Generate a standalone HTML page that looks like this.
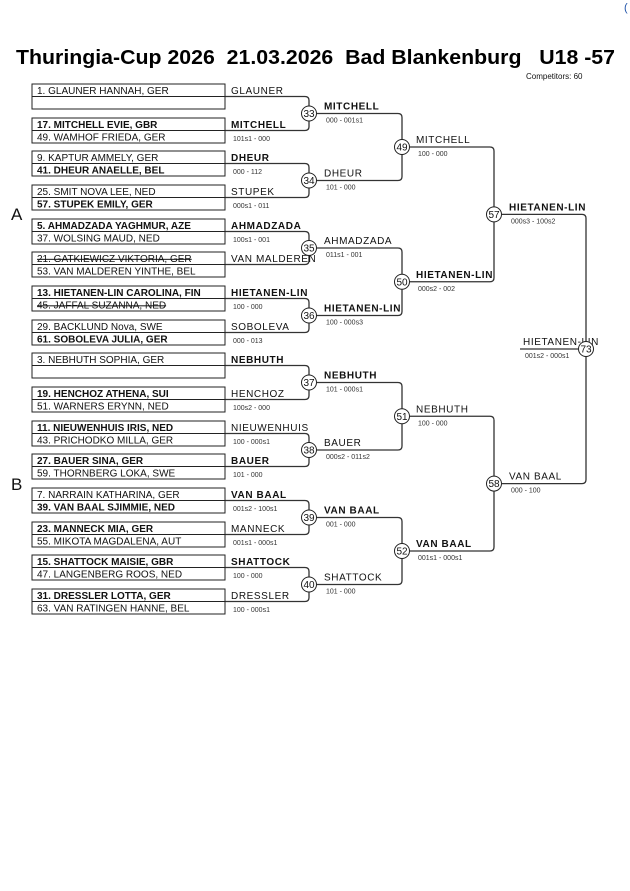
<!DOCTYPE html>
<html><head><meta charset="utf-8"><style>
html,body{margin:0;padding:0;background:#fff;}
svg{display:block;font-family:"Liberation Sans",Arial,sans-serif;}
.e{font-size:10px;fill:#111;}
.b{font-weight:bold;}
.s{text-decoration:line-through;}
.w{font-size:10px;fill:#111;letter-spacing:0.6px;}
.sc{font-size:7px;fill:#333;}
.c{font-size:10px;fill:#111;text-anchor:middle;}
.ln{fill:none;stroke:#333;stroke-width:1.3;}
.ci{fill:#fff;stroke:#222;stroke-width:1;}
.bx{fill:#fff;stroke:#222;stroke-width:1;}
.t{white-space:pre;}
</style></head><body>
<svg width="630" height="891" viewBox="0 0 630 891" xmlns="http://www.w3.org/2000/svg">
<text x="624" y="11" style="font-size:11px;fill:#2255aa">(</text>
<text x="16" y="64" class="t" textLength="599" lengthAdjust="spacingAndGlyphs" style="font-size:20px;font-weight:bold;fill:#000" xml:space="preserve">Thuringia-Cup 2026  21.03.2026  Bad Blankenburg   U18 -57</text>
<text x="526" y="79" style="font-size:8px;fill:#111">Competitors: 60</text>
<text x="11" y="220" style="font-size:17px;fill:#111">A</text>
<text x="11" y="490" style="font-size:17px;fill:#111">B</text>

<g class="ln">
<path d="M225 96.5H305Q309 96.5 309 100.5V126.5Q309 130.5 305 130.5H225"/>
<path d="M225 163.5H305Q309 163.5 309 167.5V193.5Q309 197.5 305 197.5H225"/>
<path d="M225 231.5H305Q309 231.5 309 235.5V260.5Q309 264.5 305 264.5H225"/>
<path d="M225 298.5H305Q309 298.5 309 302.5V328.5Q309 332.5 305 332.5H225"/>
<path d="M225 365.5H305Q309 365.5 309 369.5V395.5Q309 399.5 305 399.5H225"/>
<path d="M225 433.5H305Q309 433.5 309 437.5V462.5Q309 466.5 305 466.5H225"/>
<path d="M225 500.5H305Q309 500.5 309 504.5V530.5Q309 534.5 305 534.5H225"/>
<path d="M225 567.5H305Q309 567.5 309 571.5V597.5Q309 601.5 305 601.5H225"/>
<path d="M317 113.5H398Q402 113.5 402 117.5V176.5Q402 180.5 398 180.5H317"/>
<path d="M317 248H398Q402 248 402 252V311.5Q402 315.5 398 315.5H317"/>
<path d="M317 382.5H398Q402 382.5 402 386.5V446Q402 450 398 450H317"/>
<path d="M317 517.5H398Q402 517.5 402 521.5V580.5Q402 584.5 398 584.5H317"/>
<path d="M410 147H490Q494 147 494 151V277.75Q494 281.75 490 281.75H410"/>
<path d="M410 416.25H490Q494 416.25 494 420.25V547Q494 551 490 551H410"/>
<path d="M502 214.4H582Q586 214.4 586 218.4V479.6Q586 483.6 582 483.6H502"/>
<path d="M520 349H578"/>
</g>

<g class="bx">
<rect x="32" y="84" width="193" height="25"/><line x1="32" y1="96.5" x2="225" y2="96.5"/>
<rect x="32" y="118" width="193" height="25"/><line x1="32" y1="130.5" x2="225" y2="130.5"/>
<rect x="32" y="151" width="193" height="25"/><line x1="32" y1="163.5" x2="225" y2="163.5"/>
<rect x="32" y="185" width="193" height="25"/><line x1="32" y1="197.5" x2="225" y2="197.5"/>
<rect x="32" y="219" width="193" height="25"/><line x1="32" y1="231.5" x2="225" y2="231.5"/>
<rect x="32" y="252" width="193" height="25"/><line x1="32" y1="264.5" x2="225" y2="264.5"/>
<rect x="32" y="286" width="193" height="25"/><line x1="32" y1="298.5" x2="225" y2="298.5"/>
<rect x="32" y="320" width="193" height="25"/><line x1="32" y1="332.5" x2="225" y2="332.5"/>
<rect x="32" y="353" width="193" height="25"/><line x1="32" y1="365.5" x2="225" y2="365.5"/>
<rect x="32" y="387" width="193" height="25"/><line x1="32" y1="399.5" x2="225" y2="399.5"/>
<rect x="32" y="421" width="193" height="25"/><line x1="32" y1="433.5" x2="225" y2="433.5"/>
<rect x="32" y="454" width="193" height="25"/><line x1="32" y1="466.5" x2="225" y2="466.5"/>
<rect x="32" y="488" width="193" height="25"/><line x1="32" y1="500.5" x2="225" y2="500.5"/>
<rect x="32" y="522" width="193" height="25"/><line x1="32" y1="534.5" x2="225" y2="534.5"/>
<rect x="32" y="555" width="193" height="25"/><line x1="32" y1="567.5" x2="225" y2="567.5"/>
<rect x="32" y="589" width="193" height="25"/><line x1="32" y1="601.5" x2="225" y2="601.5"/>
</g>

<g class="e">
<text x="37" y="94">1. GLAUNER HANNAH, GER</text>
<text x="37" y="128" class="b">17. MITCHELL EVIE, GBR</text><text x="37" y="140.5">49. WAMHOF FRIEDA, GER</text>
<text x="37" y="161">9. KAPTUR AMMELY, GER</text><text x="37" y="173.5" class="b">41. DHEUR ANAELLE, BEL</text>
<text x="37" y="195">25. SMIT NOVA LEE, NED</text><text x="37" y="207.5" class="b">57. STUPEK EMILY, GER</text>
<text x="37" y="229" class="b">5. AHMADZADA YAGHMUR, AZE</text><text x="37" y="241.5">37. WOLSING MAUD, NED</text>
<text x="37" y="262" class="s">21. GATKIEWICZ VIKTORIA, GER</text><text x="37" y="274.5">53. VAN MALDEREN YINTHE, BEL</text>
<text x="37" y="296" class="b">13. HIETANEN-LIN CAROLINA, FIN</text><text x="37" y="308.5" class="s">45. JAFFAL SUZANNA, NED</text>
<text x="37" y="330">29. BACKLUND Nova, SWE</text><text x="37" y="342.5" class="b">61. SOBOLEVA JULIA, GER</text>
<text x="37" y="363">3. NEBHUTH SOPHIA, GER</text>
<text x="37" y="397" class="b">19. HENCHOZ ATHENA, SUI</text><text x="37" y="409.5">51. WARNERS ERYNN, NED</text>
<text x="37" y="431" class="b">11. NIEUWENHUIS IRIS, NED</text><text x="37" y="443.5">43. PRICHODKO MILLA, GER</text>
<text x="37" y="464" class="b">27. BAUER SINA, GER</text><text x="37" y="476.5">59. THORNBERG LOKA, SWE</text>
<text x="37" y="498">7. NARRAIN KATHARINA, GER</text><text x="37" y="510.5" class="b">39. VAN BAAL SJIMMIE, NED</text>
<text x="37" y="532" class="b">23. MANNECK MIA, GER</text><text x="37" y="544.5">55. MIKOTA MAGDALENA, AUT</text>
<text x="37" y="565" class="b">15. SHATTOCK MAISIE, GBR</text><text x="37" y="577.5">47. LANGENBERG ROOS, NED</text>
<text x="37" y="599" class="b">31. DRESSLER LOTTA, GER</text><text x="37" y="611.5">63. VAN RATINGEN HANNE, BEL</text>
</g>

<g class="w">
<text x="231" y="94">GLAUNER</text>
<text x="231" y="128" class="b">MITCHELL</text>
<text x="231" y="161" class="b">DHEUR</text>
<text x="231" y="195">STUPEK</text>
<text x="231" y="229" class="b">AHMADZADA</text>
<text x="231" y="262">VAN MALDEREN</text>
<text x="231" y="296" class="b">HIETANEN-LIN</text>
<text x="231" y="330">SOBOLEVA</text>
<text x="231" y="363" class="b">NEBHUTH</text>
<text x="231" y="397">HENCHOZ</text>
<text x="231" y="431">NIEUWENHUIS</text>
<text x="231" y="464" class="b">BAUER</text>
<text x="231" y="498" class="b">VAN BAAL</text>
<text x="231" y="532">MANNECK</text>
<text x="231" y="565" class="b">SHATTOCK</text>
<text x="231" y="599">DRESSLER</text>
</g>
<g class="sc">
<text x="233" y="141">101s1 - 000</text>
<text x="233" y="174">000 - 112</text>
<text x="233" y="208">000s1 - 011</text>
<text x="233" y="242">100s1 - 001</text>
<text x="233" y="309">100 - 000</text>
<text x="233" y="343">000 - 013</text>
<text x="233" y="410">100s2 - 000</text>
<text x="233" y="444">100 - 000s1</text>
<text x="233" y="477">101 - 000</text>
<text x="233" y="511">001s2 - 100s1</text>
<text x="233" y="545">001s1 - 000s1</text>
<text x="233" y="578">100 - 000</text>
<text x="233" y="612">100 - 000s1</text>
</g>

<g class="w">
<text x="324" y="109.5" class="b">MITCHELL</text>
<text x="324" y="176.5">DHEUR</text>
<text x="324" y="244">AHMADZADA</text>
<text x="324" y="311.5" class="b">HIETANEN-LIN</text>
<text x="324" y="378.5" class="b">NEBHUTH</text>
<text x="324" y="446">BAUER</text>
<text x="324" y="513.5" class="b">VAN BAAL</text>
<text x="324" y="580.5">SHATTOCK</text>
<text x="416" y="143">MITCHELL</text>
<text x="416" y="277.75" class="b">HIETANEN-LIN</text>
<text x="416" y="412.25">NEBHUTH</text>
<text x="416" y="547" class="b">VAN BAAL</text>
<text x="509" y="210.4" class="b">HIETANEN-LIN</text>
<text x="509" y="479.6">VAN BAAL</text>
<text x="523" y="345">HIETANEN-LIN</text>
</g>
<g class="sc">
<text x="326" y="122.5">000 - 001s1</text>
<text x="326" y="189.5">101 - 000</text>
<text x="326" y="257">011s1 - 001</text>
<text x="326" y="324.5">100 - 000s3</text>
<text x="326" y="391.5">101 - 000s1</text>
<text x="326" y="459">000s2 - 011s2</text>
<text x="326" y="526.5">001 - 000</text>
<text x="326" y="593.5">101 - 000</text>
<text x="418" y="156">100 - 000</text>
<text x="418" y="290.75">000s2 - 002</text>
<text x="418" y="425.25">100 - 000</text>
<text x="418" y="560">001s1 - 000s1</text>
<text x="511" y="223.4">000s3 - 100s2</text>
<text x="511" y="492.6">000 - 100</text>
<text x="525" y="358">001s2 - 000s1</text>
</g>

<g>
<circle class="ci" cx="309" cy="113.5" r="7.5"/><text class="c" x="309" y="117">33</text>
<circle class="ci" cx="309" cy="180.5" r="7.5"/><text class="c" x="309" y="184">34</text>
<circle class="ci" cx="309" cy="248" r="7.5"/><text class="c" x="309" y="251.5">35</text>
<circle class="ci" cx="309" cy="315.5" r="7.5"/><text class="c" x="309" y="319">36</text>
<circle class="ci" cx="309" cy="382.5" r="7.5"/><text class="c" x="309" y="386">37</text>
<circle class="ci" cx="309" cy="450" r="7.5"/><text class="c" x="309" y="453.5">38</text>
<circle class="ci" cx="309" cy="517.5" r="7.5"/><text class="c" x="309" y="521">39</text>
<circle class="ci" cx="309" cy="584.5" r="7.5"/><text class="c" x="309" y="588">40</text>
<circle class="ci" cx="402" cy="147" r="7.5"/><text class="c" x="402" y="150.5">49</text>
<circle class="ci" cx="402" cy="281.75" r="7.5"/><text class="c" x="402" y="285.25">50</text>
<circle class="ci" cx="402" cy="416.25" r="7.5"/><text class="c" x="402" y="419.75">51</text>
<circle class="ci" cx="402" cy="551" r="7.5"/><text class="c" x="402" y="554.5">52</text>
<circle class="ci" cx="494" cy="214.4" r="7.5"/><text class="c" x="494" y="217.9">57</text>
<circle class="ci" cx="494" cy="483.6" r="7.5"/><text class="c" x="494" y="487.1">58</text>
<circle class="ci" cx="586" cy="349" r="7.5"/><text class="c" x="586" y="352.5">73</text>
</g>
</svg>
</body></html>
